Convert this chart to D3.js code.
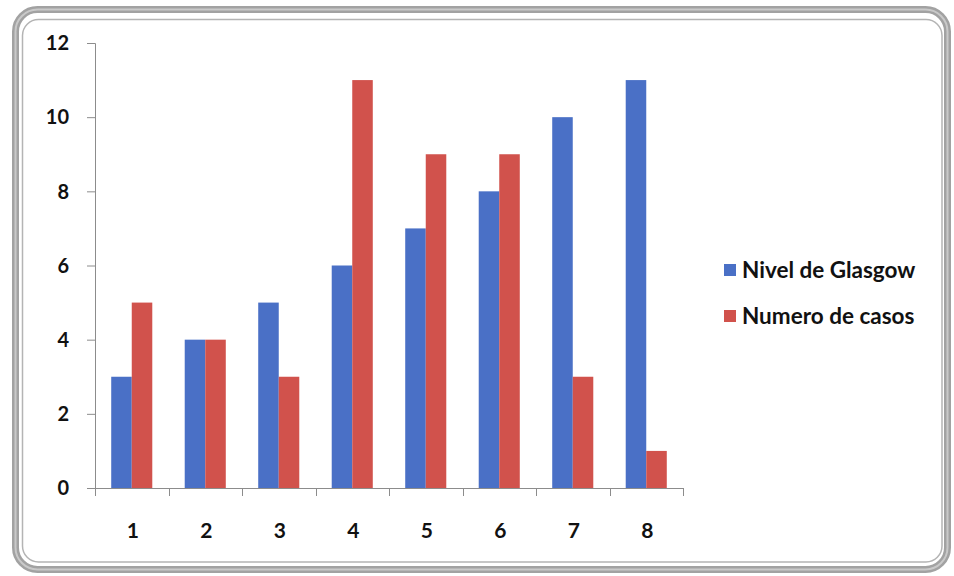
<!DOCTYPE html>
<html>
<head>
<meta charset="utf-8">
<script src="https://cdn.jsdelivr.net/npm/d3@7"></script>
<style>
  html, body { margin: 0; padding: 0; background: #ffffff; }
  svg { display: block; }
  text { font-family: Lato, "Open Sans", sans-serif; font-weight: bold; fill: #111; }
</style>
</head>
<body>
<svg id="chart" width="954" height="576"></svg>
<script>
// Categories (x axis) and the two series
const categories = ["1", "2", "3", "4", "5", "6", "7", "8"];
const seriesNames = ["Nivel de Glasgow", "Numero de casos"];
const glasgow = [3, 4, 5, 6, 7, 8, 10, 11];
const casos = [5, 4, 3, 11, 9, 9, 3, 1];
const yTicks = [0, 2, 4, 6, 8, 10, 12];
const colors = ["#4a70c6", "#d1524c"];

const svg = d3.select("#chart");

// Rounded outer frame with a thin inner line
svg.append("rect")
  .attr("x", 15.5).attr("y", 9.5).attr("width", 932).attr("height", 560)
  .attr("rx", 22).attr("ry", 22)
  .attr("fill", "#ffffff").attr("stroke", "#a2a2a2").attr("stroke-width", 7);
svg.append("rect")
  .attr("x", 15.5).attr("y", 9.5).attr("width", 932).attr("height", 560)
  .attr("rx", 22).attr("ry", 22)
  .attr("fill", "none").attr("stroke", "#c9c9c9").attr("stroke-width", 2);
svg.append("rect")
  .attr("x", 22.5).attr("y", 19.5).attr("width", 919.5).attr("height", 542.5)
  .attr("rx", 16).attr("ry", 16)
  .attr("fill", "none").attr("stroke", "#b4b4b4").attr("stroke-width", 1.5);

// Plot area
const plotLeft = 95, plotRight = 683, plotTop = 43, plotBottom = 488;

const x = d3.scaleBand().domain(categories).range([plotLeft, plotRight]).padding(0);
const xs = d3.scaleBand().domain(seriesNames).range([0, x.bandwidth()])
  .paddingInner(0).paddingOuter(0.79);
const y = d3.scaleLinear().domain([0, 12]).range([plotBottom, plotTop]);

const data = categories.map((c, i) => ({ cat: c, values: [glasgow[i], casos[i]] }));

// Bars
const groups = svg.append("g").selectAll("g").data(data).join("g")
  .attr("transform", d => `translate(${x(d.cat)},0)`);
groups.selectAll("rect")
  .data(d => d.values.map((v, k) => ({ name: seriesNames[k], value: v, k })))
  .join("rect")
  .attr("x", d => xs(d.name))
  .attr("y", d => y(d.value))
  .attr("width", xs.bandwidth())
  .attr("height", d => y(0) - y(d.value))
  .attr("fill", d => colors[d.k]);

// Y axis
const yAxis = d3.axisLeft(y).tickValues(yTicks).tickSize(8).tickFormat(d3.format("d"));
const gy = svg.append("g").attr("transform", `translate(${plotLeft},0)`).call(yAxis);
gy.select(".domain").attr("stroke", "#8c8c8c");
gy.selectAll(".tick line").attr("stroke", "#8c8c8c");
gy.selectAll(".tick text")
  .attr("font-size", 20).attr("font-family", "Lato, 'Open Sans', sans-serif")
  .attr("font-weight", "bold").attr("fill", "#111").attr("x", -26).attr("dy", "0.34em");

// X axis: line plus tick marks at category boundaries
const gx = svg.append("g");
gx.append("line")
  .attr("x1", plotLeft).attr("x2", plotRight)
  .attr("y1", plotBottom + 0.5).attr("y2", plotBottom + 0.5)
  .attr("stroke", "#8c8c8c");
const bounds = categories.map(c => x(c)).concat([x(categories[categories.length - 1]) + x.bandwidth()]);
gx.selectAll("line.tk").data(bounds).join("line")
  .attr("class", "tk")
  .attr("x1", d => Math.round(d) + 0.5).attr("x2", d => Math.round(d) + 0.5)
  .attr("y1", plotBottom).attr("y2", plotBottom + 8)
  .attr("stroke", "#8c8c8c");
gx.selectAll("text").data(categories).join("text")
  .attr("x", d => x(d) + x.bandwidth() / 2 + 1)
  .attr("y", 538)
  .attr("text-anchor", "middle")
  .attr("font-size", 21)
  .text(d => d);

// Legend
const legend = svg.append("g");
const rows = legend.selectAll("g").data(seriesNames).join("g")
  .attr("transform", (d, i) => `translate(724,${264 + i * 46})`);
rows.append("rect").attr("width", 12).attr("height", 12).attr("fill", (d, i) => colors[i]);
rows.append("text").attr("x", 18).attr("y", 14).attr("font-size", 22.5).text(d => d);
</script>
</body>
</html>
